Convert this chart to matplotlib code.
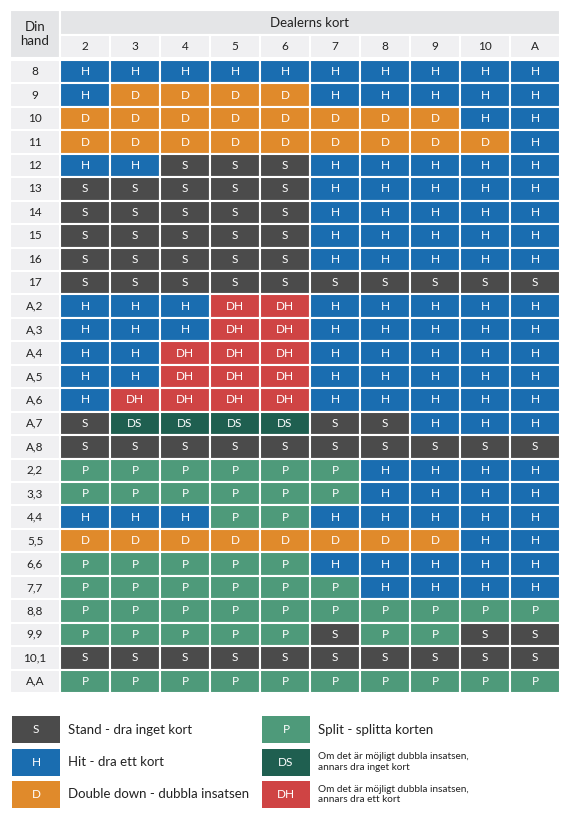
import matplotlib.pyplot as plt
from matplotlib.patches import Rectangle

plt.rcParams['font.family'] = ['Lato', 'DejaVu Sans']

DEALER = ["2", "3", "4", "5", "6", "7", "8", "9", "10", "A"]
HANDS = ["8", "9", "10", "11", "12", "13", "14", "15", "16", "17",
         "A,2", "A,3", "A,4", "A,5", "A,6", "A,7", "A,8",
         "2,2", "3,3", "4,4", "5,5", "6,6", "7,7", "8,8", "9,9", "10,1", "A,A"]
MOVES = [
    "H H H H H H H H H H",
    "H D D D D H H H H H",
    "D D D D D D D D H H",
    "D D D D D D D D D H",
    "H H S S S H H H H H",
    "S S S S S H H H H H",
    "S S S S S H H H H H",
    "S S S S S H H H H H",
    "S S S S S H H H H H",
    "S S S S S S S S S S",
    "H H H DH DH H H H H H",
    "H H H DH DH H H H H H",
    "H H DH DH DH H H H H H",
    "H H DH DH DH H H H H H",
    "H DH DH DH DH H H H H H",
    "S DS DS DS DS S S H H H",
    "S S S S S S S S S S",
    "P P P P P P H H H H",
    "P P P P P P H H H H",
    "H H H P P H H H H H",
    "D D D D D D D D H H",
    "P P P P P H H H H H",
    "P P P P P P H H H H",
    "P P P P P P P P P P",
    "P P P P P S P P S S",
    "S S S S S S S S S S",
    "P P P P P P P P P P",
]
COLORS = {"S": "#4b4b4b", "H": "#1a6db0", "D": "#e08a2b",
          "P": "#4e9a7a", "DS": "#1f5f50", "DH": "#cf4444"}
LEGEND = [("S", "Stand - dra inget kort"), ("H", "Hit - dra ett kort"),
          ("D", "Double down - dubbla insatsen"), ("P", "Split - splitta korten"),
          ("DS", "Om det är möjligt dubbla insatsen,\nannars dra inget kort"),
          ("DH", "Om det är möjligt dubbla insatsen,\nannars dra ett kort")]

fig = plt.figure(figsize=(5.70, 8.24), dpi=100)
ax = fig.add_axes([0, 0, 1, 1])
ax.set_xlim(0, 570)
ax.set_ylim(824, 0)
ax.axis("off")

x0, lw, cw = 10, 50, 50
hy0, hh1, hh2 = 10, 25, 23
ry0 = hy0 + hh1 + hh2 + 2
rh = (693 - ry0) / len(HANDS)
edge = dict(edgecolor="white", linewidth=1.5)

ax.add_patch(Rectangle((x0, hy0), lw, hh1 + hh2, facecolor="#e4e5e7", **edge))
ax.text(x0 + lw / 2, hy0 + (hh1 + hh2) / 2, "Din\nhand", ha="center", va="center", fontsize=9.5, color="#222")
ax.add_patch(Rectangle((x0 + lw, hy0), cw * 10, hh1, facecolor="#e4e5e7", **edge))
ax.text(x0 + lw + cw * 5, hy0 + hh1 / 2, "Dealerns kort", ha="center", va="center", fontsize=9.5, color="#222")
for j, d in enumerate(DEALER):
    x = x0 + lw + j * cw
    ax.add_patch(Rectangle((x, hy0 + hh1), cw, hh2, facecolor="#f0f0f2", **edge))
    ax.text(x + cw / 2, hy0 + hh1 + hh2 / 2, d, ha="center", va="center", fontsize=8.5, color="#222")

for i, (hand, row) in enumerate(zip(HANDS, MOVES)):
    y = ry0 + i * rh
    ax.add_patch(Rectangle((x0, y), lw, rh, facecolor="#f0f0f2", **edge))
    ax.text(x0 + lw / 2, y + rh / 2, hand, ha="center", va="center", fontsize=8.5, color="#222")
    for j, m in enumerate(row.split()):
        x = x0 + lw + j * cw
        ax.add_patch(Rectangle((x, y), cw, rh, facecolor=COLORS[m], **edge))
        ax.text(x + cw / 2, y + rh / 2, m, ha="center", va="center", fontsize=8.5, color="white")

for k, (code, label) in enumerate(LEGEND):
    col, r = (0, k) if k < 3 else (1, k - 3)
    if k == 3:
        r = 0
    bx = 12 + col * 250
    by = 716 + r * 32.5
    ax.add_patch(Rectangle((bx, by), 48, 27, facecolor=COLORS[code], edgecolor="none"))
    ax.text(bx + 24, by + 13.5, code, ha="center", va="center", fontsize=8.5, color="white")
    fs = 7.2 if "\n" in label else 9.5
    ax.text(bx + 56, by + 13.5, label, ha="left", va="center", fontsize=fs, color="#222", linespacing=1.2)

fig.savefig("out.png", dpi=100)
